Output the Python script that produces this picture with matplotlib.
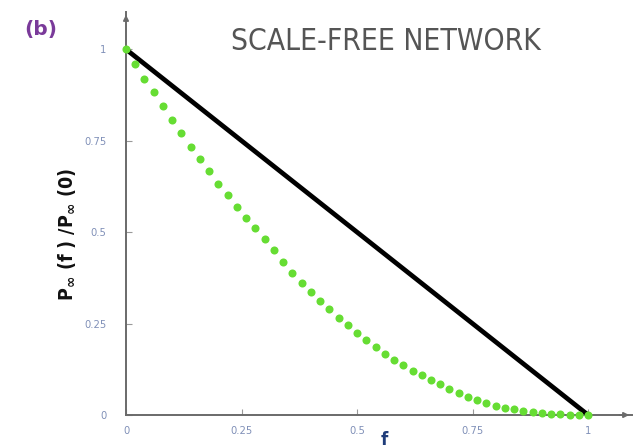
import matplotlib
matplotlib.use("Agg")
import matplotlib.pyplot as plt

# Data
f_values = [0.00, 0.02, 0.04, 0.06, 0.08, 0.10, 0.12, 0.14, 0.16, 0.18,
            0.20, 0.22, 0.24, 0.26, 0.28, 0.30, 0.32, 0.34, 0.36, 0.38,
            0.40, 0.42, 0.44, 0.46, 0.48, 0.50, 0.52, 0.54, 0.56, 0.58,
            0.60, 0.62, 0.64, 0.66, 0.68, 0.70, 0.72, 0.74, 0.76, 0.78,
            0.80, 0.82, 0.84, 0.86, 0.88, 0.90, 0.92, 0.94, 0.96, 0.98, 1.00]
scale_free = [1.000, 0.960, 0.920, 0.882, 0.844, 0.806, 0.770, 0.734, 0.700, 0.666,
              0.633, 0.601, 0.570, 0.540, 0.510, 0.481, 0.452, 0.418, 0.389, 0.361,
              0.335, 0.311, 0.289, 0.266, 0.245, 0.224, 0.205, 0.186, 0.167, 0.151,
              0.136, 0.121, 0.110, 0.097, 0.084, 0.071, 0.060, 0.050, 0.040, 0.032,
              0.025, 0.020, 0.016, 0.012, 0.009, 0.006, 0.004, 0.002, 0.001, 0.000, 0.000]
line_f = [0.0, 1.0]
line_p = [1.0, 0.0]
xticks = [0, 0.25, 0.5, 0.75, 1]
yticks = [0, 0.25, 0.5, 0.75, 1]
xtick_labels = ["0", "0.25", "0.5", "0.75", "1"]
ytick_labels = ["0", "0.25", "0.5", "0.75", "1"]

fig = plt.figure(figsize=(6.35, 4.48), dpi=100)
ax = fig.add_axes([126/635, 1-415/448, (632-126)/635, (415-12)/448])
ax.set_xlim(0, 1.095)
ax.set_ylim(0, 1.102)

ax.plot(line_f, line_p, color="black", lw=3.4, solid_capstyle="round", zorder=3)
ax.plot(f_values, scale_free, ls="none", marker="o", ms=5.8, color="#66dd33",
        markeredgewidth=0, clip_on=False, zorder=4)

for s in ["top", "right"]:
    ax.spines[s].set_visible(False)
for s in ["left", "bottom"]:
    ax.spines[s].set_color("#6a6a6a")
    ax.spines[s].set_linewidth(1.4)
ax.annotate("", xy=(1.0, 0), xytext=(0.97, 0), xycoords="axes fraction",
            arrowprops=dict(arrowstyle="-|>", color="#6a6a6a", lw=1.2,
                            mutation_scale=8))
ax.annotate("", xy=(0, 1.0), xytext=(0, 0.97), xycoords="axes fraction",
            arrowprops=dict(arrowstyle="-|>", color="#6a6a6a", lw=1.2,
                            mutation_scale=8))

ax.set_xticks(xticks)
ax.set_xticklabels(xtick_labels, fontstretch="condensed")
ax.set_yticks(yticks)
ax.set_yticklabels(ytick_labels, fontstretch="condensed")
ax.tick_params(direction="in", length=4, width=0.8, color="#999999",
               labelsize=8, labelcolor="#8090b8", pad=8)
ax.tick_params(axis="y", pad=14)

fig.text(384/635, 1-440/448, "f", fontsize=12, fontweight="bold",
         color="#1f3c7a", ha="center", va="center")
fig.text(67/635, 1-234/448, r"P$_{\mathbf{\infty}}$ (f ) /P$_{\mathbf{\infty}}$ (0)",
         fontsize=14, fontweight="bold", fontstretch="condensed", rotation=90,
         color="#111111", ha="center", va="center")
fig.text(41/635, 1-30/448, "(b)", fontsize=14.5, fontweight="bold",
         color="#7a3a9a", ha="center", va="center")
fig.text(386/635, 1-41/448, "SCALE-FREE NETWORK", fontsize=21.5,
         family="DejaVu Sans", fontstretch="condensed", color="#555555",
         ha="center", va="center")

fig.savefig("out.png", dpi=100)
